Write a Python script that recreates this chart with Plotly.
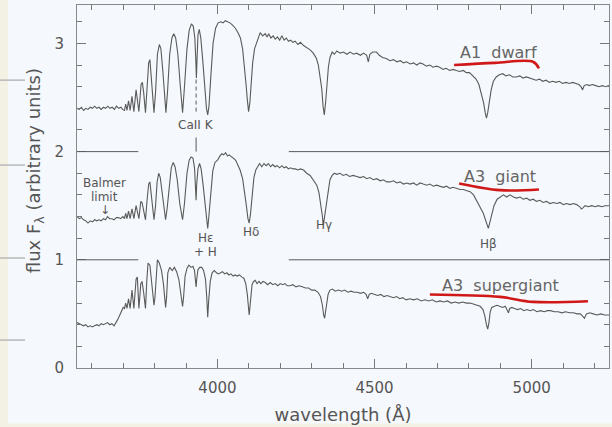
import plotly.graph_objects as go

# ---------------- data ----------------
dwarf_wl = [3553,3560,3567,3574,3581,3588,3595,3602,3609,3616,3623,3630,3637,3644,3651,3658,3665,3672,3679,3686,3693,3698,
            3704,3708,3712,3717,3722,3728,3734,3741,3750,3757,3761,3765,3771,3776,3781,3785,3789,3794,3798,3803,3809,3815,3820,
            3826,3832,3836,3841,3848,3855,3861,3867,3874,3882,3889,3895,3903,3910,3917,3923,3928,3931,3933,3935,3938,3942,3947,
            3953,3960,3965,3969,3973,3979,3986,3994,4002,4010,4018,4025,4032,4040,4048,4057,4065,4073,4080,4086,4091,4095,4099,
            4103,4107,4112,4118,4126,4136,4144,4152,4158,4163,4170,4177,4184,4191,4198,4205,4212,4219,4226,4233,4240,4247,4256,
            4264,4274,4284,4295,4305,4315,4321,4327,4332,4336,4340,4344,4348,4353,4358,4365,4372,4380,4390,4401,4412,4422,4433,
            4443,4455,4465,4475,4480,4485,4494,4506,4515,4525,4537,4549,4560,4571,4582,4592,4602,4613,4624,4634,4645,4654,4665,
            4676,4686,4697,4707,4718,4728,4739,4750,4760,4771,4782,4792,4802,4812,4823,4832,4840,4847,4852,4856,4860,4865,4871,
            4878,4887,4897,4908,4918,4929,4940,4951,4962,4972,4983,4993,5004,5014,5025,5035,5046,5056,5067,5077,5088,5098,5109,
            5120,5130,5141,5150,5157,5162,5167,5175,5183,5193,5204,5214,5225,5235,5246]
dwarf_flux = [2.40,2.39,2.41,2.38,2.40,2.39,2.41,2.40,2.42,2.40,2.41,2.39,2.41,2.40,2.42,2.40,2.41,2.39,2.42,2.40,2.41,2.39,
              2.38,2.44,2.38,2.47,2.38,2.51,2.37,2.57,2.37,2.62,2.64,2.55,2.36,2.60,2.82,2.85,2.72,2.50,2.36,2.55,2.90,2.99,2.95,
              2.75,2.48,2.36,2.55,2.90,3.05,3.09,3.05,2.90,2.60,2.36,2.60,2.95,3.12,3.18,3.16,3.05,2.85,2.68,2.85,3.08,3.13,3.05,
              2.85,2.55,2.40,2.34,2.42,2.70,3.00,3.14,3.19,3.20,3.19,3.21,3.20,3.19,3.17,3.14,3.10,3.05,2.95,2.80,2.62,2.48,2.37,
              2.45,2.63,2.82,2.95,3.02,3.10,3.07,3.09,3.06,3.09,3.05,3.07,3.04,3.06,3.03,3.07,3.03,3.05,3.02,3.03,3.01,3.02,2.99,
              3.01,2.98,2.96,2.94,2.91,2.86,2.80,2.70,2.58,2.42,2.34,2.45,2.62,2.78,2.87,2.92,2.90,2.93,2.91,2.92,2.90,2.92,2.90,
              2.91,2.89,2.91,2.89,2.83,2.90,2.92,2.92,2.89,2.87,2.86,2.84,2.85,2.83,2.84,2.82,2.83,2.81,2.82,2.80,2.82,2.81,2.79,
              2.80,2.78,2.79,2.78,2.76,2.77,2.75,2.76,2.75,2.74,2.75,2.73,2.73,2.70,2.67,2.62,2.54,2.45,2.36,2.31,2.36,2.47,2.57,
              2.65,2.69,2.71,2.72,2.70,2.71,2.69,2.69,2.70,2.68,2.69,2.68,2.67,2.66,2.67,2.65,2.66,2.64,2.65,2.64,2.65,2.63,2.64,
              2.63,2.64,2.63,2.62,2.60,2.57,2.61,2.62,2.61,2.62,2.61,2.60,2.61,2.60,2.61]

giant_wl = [3553,3560,3567,3574,3581,3588,3595,3602,3609,3616,3623,3630,3637,3644,3650,3657,3664,3671,3678,3685,3692,3699,
            3704,3708,3712,3717,3722,3728,3734,3741,3750,3756,3760,3765,3771,3776,3781,3785,3789,3794,3798,3803,3808,3813,3818,
            3824,3830,3835,3840,3847,3853,3859,3865,3872,3880,3889,3895,3903,3910,3916,3922,3927,3930,3932,3934,3938,3943,3948,
            3954,3961,3966,3969,3972,3978,3985,3992,4000,4008,4014,4020,4026,4032,4038,4045,4051,4058,4065,4072,4080,4086,4092,
            4097,4101,4105,4110,4116,4122,4128,4134,4141,4148,4155,4162,4169,4176,4183,4190,4198,4205,4212,4219,4226,4233,4240,
            4248,4256,4264,4274,4284,4295,4305,4316,4323,4329,4334,4337,4341,4345,4350,4358,4365,4372,4380,4390,4400,4410,4420,
            4432,4443,4454,4465,4475,4485,4496,4507,4518,4528,4539,4549,4560,4571,4581,4592,4602,4613,4624,4634,4645,4655,4666,
            4676,4687,4697,4708,4719,4729,4740,4750,4761,4772,4782,4793,4804,4815,4825,4835,4846,4854,4862,4868,4874,4880,4890,
            4899,4910,4920,4931,4942,4952,4963,4973,4984,4994,5005,5015,5026,5036,5047,5058,5069,5080,5090,5101,5111,5122,5133,
            5143,5153,5158,5163,5170,5180,5191,5202,5212,5223,5234,5246]
giant_flux = [1.40,1.38,1.39,1.37,1.36,1.34,1.36,1.35,1.37,1.36,1.37,1.36,1.38,1.37,1.40,1.38,1.38,1.37,1.39,1.39,1.38,1.40,
              1.38,1.43,1.38,1.45,1.38,1.47,1.38,1.50,1.38,1.54,1.53,1.45,1.37,1.55,1.70,1.72,1.62,1.46,1.37,1.50,1.72,1.80,1.76,
              1.62,1.45,1.37,1.48,1.72,1.85,1.90,1.86,1.74,1.52,1.37,1.52,1.80,1.92,1.95,1.94,1.85,1.70,1.55,1.70,1.84,1.89,1.84,
              1.70,1.48,1.35,1.29,1.38,1.62,1.82,1.90,1.92,1.96,1.98,1.97,1.99,1.96,1.97,1.95,1.94,1.92,1.88,1.83,1.75,1.64,1.50,
              1.38,1.34,1.42,1.60,1.76,1.83,1.86,1.89,1.86,1.89,1.87,1.89,1.86,1.88,1.86,1.87,1.85,1.87,1.85,1.86,1.84,1.85,1.84,
              1.84,1.83,1.84,1.83,1.80,1.78,1.74,1.69,1.62,1.52,1.40,1.32,1.40,1.52,1.60,1.74,1.78,1.80,1.79,1.80,1.78,1.79,1.77,
              1.78,1.77,1.76,1.77,1.75,1.76,1.74,1.75,1.73,1.74,1.72,1.72,1.73,1.71,1.72,1.70,1.71,1.70,1.71,1.69,1.71,1.70,1.69,
              1.70,1.68,1.69,1.68,1.67,1.68,1.66,1.67,1.66,1.65,1.65,1.64,1.63,1.60,1.55,1.49,1.43,1.35,1.29,1.36,1.44,1.50,1.56,
              1.58,1.60,1.58,1.60,1.58,1.57,1.58,1.56,1.57,1.55,1.56,1.54,1.55,1.53,1.54,1.52,1.53,1.52,1.53,1.51,1.52,1.51,1.52,
              1.51,1.49,1.47,1.48,1.50,1.49,1.50,1.49,1.50,1.49,1.50,1.50]

superg_wl = [3553,3560,3567,3574,3581,3588,3595,3602,3609,3616,3623,3630,3637,3644,3650,3657,3664,3671,3676,3681,3686,3691,
             3696,3700,3704,3708,3712,3717,3722,3728,3734,3741,3745,3750,3756,3760,3765,3771,3775,3779,3785,3790,3795,3798,3801,
             3805,3809,3815,3822,3828,3832,3835,3838,3842,3848,3856,3863,3870,3877,3883,3887,3889,3892,3897,3903,3909,3916,3922,
             3927,3930,3932,3934,3938,3944,3950,3956,3962,3966,3969,3972,3977,3983,3990,3997,4003,4010,4016,4023,4030,4036,4043,
             4050,4056,4063,4070,4078,4084,4090,4095,4099,4101,4103,4106,4110,4115,4120,4126,4132,4138,4145,4152,4160,4168,4176,
             4184,4192,4200,4208,4215,4222,4231,4240,4250,4260,4270,4280,4290,4300,4310,4320,4328,4334,4338,4341,4344,4348,4352,
             4358,4366,4375,4385,4395,4405,4415,4425,4435,4445,4455,4465,4473,4478,4483,4490,4500,4510,4520,4530,4540,4549,4560,
             4570,4580,4590,4600,4612,4624,4636,4648,4660,4672,4684,4696,4708,4720,4732,4744,4756,4768,4780,4792,4804,4815,4825,
             4836,4845,4851,4856,4860,4864,4868,4873,4880,4889,4898,4908,4916,4922,4926,4930,4937,4945,4955,4965,4975,4985,4995,
             5005,5017,5028,5040,5050,5060,5072,5084,5096,5108,5120,5132,5145,5155,5162,5168,5174,5185,5196,5208,5220,5232,5246]
superg_flux = [0.42,0.41,0.40,0.39,0.40,0.38,0.39,0.38,0.39,0.40,0.39,0.41,0.40,0.41,0.42,0.40,0.41,0.39,0.41,0.44,0.47,0.50,
               0.53,0.56,0.55,0.60,0.55,0.64,0.55,0.72,0.55,0.82,0.84,0.55,0.78,0.80,0.70,0.55,0.80,0.97,0.95,0.80,0.62,0.58,0.65,
               0.90,1.00,0.97,0.90,0.78,0.62,0.56,0.65,0.88,0.93,0.90,0.93,0.89,0.82,0.70,0.60,0.57,0.65,0.85,0.92,0.95,0.93,0.94,
               0.90,0.82,0.75,0.82,0.91,0.93,0.93,0.90,0.82,0.65,0.47,0.62,0.80,0.88,0.90,0.88,0.87,0.88,0.89,0.87,0.88,0.86,0.87,
               0.85,0.86,0.85,0.86,0.84,0.83,0.78,0.68,0.55,0.49,0.55,0.68,0.77,0.80,0.81,0.78,0.80,0.78,0.80,0.79,0.77,0.79,0.77,
               0.78,0.76,0.78,0.77,0.78,0.76,0.76,0.77,0.75,0.76,0.75,0.74,0.74,0.72,0.72,0.70,0.66,0.58,0.49,0.46,0.52,0.62,0.68,
               0.72,0.73,0.71,0.72,0.71,0.72,0.70,0.71,0.70,0.70,0.69,0.70,0.68,0.64,0.68,0.69,0.68,0.67,0.68,0.66,0.67,0.66,0.65,
               0.66,0.64,0.65,0.63,0.64,0.63,0.64,0.62,0.63,0.62,0.63,0.61,0.62,0.61,0.62,0.60,0.61,0.60,0.61,0.60,0.60,0.59,0.58,
               0.57,0.54,0.48,0.40,0.36,0.42,0.52,0.56,0.57,0.58,0.57,0.56,0.57,0.54,0.51,0.55,0.56,0.55,0.54,0.55,0.53,0.54,0.53,
               0.54,0.52,0.53,0.52,0.53,0.53,0.52,0.52,0.51,0.52,0.51,0.51,0.50,0.50,0.48,0.46,0.50,0.51,0.50,0.49,0.50,0.49,0.49]

# reference levels drawn as horizontal segments
ref_levels = [2, 1]
ref_left = [3553, 3748]
ref_right = [4227, 5246]

# labels: (text, wavelength, flux)
line_labels = ["CaII K", "Balmer", "limit", "↓", "Hε", "+ H", "Hδ", "Hγ", "Hβ"]
line_label_wl = [3931, 3641, 3641, 3641, 3963, 3963, 4107, 4339, 4861]
line_label_y = [2.245, 1.71, 1.585, 1.46, 1.20, 1.075, 1.255, 1.32, 1.15]

star_labels = ["A1  dwarf", "A3  giant", "A3  supergiant"]
star_label_wl = [4893, 4900, 4900]
star_label_y = [2.92, 1.77, 0.76]

# hand-drawn red underlines
ul1_x = [4753, 4883, 5004, 5023]; ul1_y = [2.80, 2.82, 2.83, 2.77]
ul2_x = [4769, 4899, 5023];       ul2_y = [1.706, 1.644, 1.650]
ul3_x = [4676, 4899, 5004, 5179]; ul3_y = [0.679, 0.657, 0.611, 0.617]

XR = [3553, 5246]
YR = [0, 3.355]

INK = "#5a5a5a"
TXT = "#555555"
BG = "#f5f8fc"
FONT = "DejaVu Sans"

fig = go.Figure()
for wl, fl in [(dwarf_wl, dwarf_flux), (giant_wl, giant_flux), (superg_wl, superg_flux)]:
    fig.add_trace(go.Scatter(x=wl, y=fl, mode="lines", line=dict(color=INK, width=1.1),
                             hoverinfo="skip", showlegend=False))

for ux, uy in [(ul1_x, ul1_y), (ul2_x, ul2_y), (ul3_x, ul3_y)]:
    fig.add_trace(go.Scatter(x=ux, y=uy, mode="lines", line=dict(color="#d01818", width=2.6, shape="spline"),
                             hoverinfo="skip", showlegend=False))

shapes = []
for lv in ref_levels:
    shapes.append(dict(type="line", xref="x", yref="y", x0=ref_left[0], x1=ref_left[1], y0=lv, y1=lv,
                       line=dict(color=INK, width=1)))
    shapes.append(dict(type="line", xref="x", yref="y", x0=ref_right[0], x1=ref_right[1], y0=lv, y1=lv,
                       line=dict(color=INK, width=1)))
# CaII K marker and faint dashed line in top spectrum
shapes.append(dict(type="line", xref="x", yref="y", x0=3932, x1=3932, y0=2.0, y1=2.13,
                   line=dict(color=INK, width=1)))
shapes.append(dict(type="line", xref="x", yref="y", x0=3932, x1=3932, y0=2.37, y1=2.68,
                   line=dict(color=INK, width=1, dash="4px,3px")))
# page artifacts of the scan
shapes.append(dict(type="rect", xref="paper", yref="paper", x0=-0.1447, x1=-0.1297, y0=-0.17, y1=1.02,
                   fillcolor="#f3f1e3", line=dict(width=0), layer="below"))
shapes.append(dict(type="rect", xref="paper", yref="paper", x0=-0.15, x1=1.01, y0=-0.1625, y1=-0.153,
                   fillcolor="#f3f1e3", line=dict(width=0), layer="below"))
for yp in [0.793, 0.559, 0.303, 0.077]:
    shapes.append(dict(type="line", xref="paper", yref="paper", x0=-0.1447, x1=-0.0977, y0=yp, y1=yp,
                       line=dict(color="#b8b8b8", width=1.5)))

annotations = []
for t, xw, yv in zip(line_labels, line_label_wl, line_label_y):
    annotations.append(dict(text=t, x=xw, y=yv, xref="x", yref="y", showarrow=False,
                            font=dict(family=FONT, size=12, color=TXT)))
for t, xw, yv in zip(star_labels, star_label_wl, star_label_y):
    annotations.append(dict(text=t, x=xw, y=yv, xref="x", yref="y", showarrow=False,
                            font=dict(family=FONT, size=16, color="#666666")))
# y-axis title (placed slightly above centre as in the reference)
annotations.append(dict(text="flux F<sub>λ</sub> (arbitrary units)", x=-0.079, y=0.545, xref="paper", yref="paper",
                        showarrow=False, textangle=-90, xanchor="center", yanchor="middle",
                        font=dict(family=FONT, size=18, color=TXT)))

fig.update_layout(
    width=612, height=427,
    margin=dict(l=77, r=3, t=5, b=59),
    paper_bgcolor=BG, plot_bgcolor=BG,
    shapes=shapes, annotations=annotations,
    font=dict(family=FONT, color=TXT),
    xaxis=dict(range=XR, tickvals=[4000, 4500, 5000], ticks="inside", ticklen=9, tickcolor="#777",
               showline=True, linecolor="#888", linewidth=1, mirror="ticks", showgrid=False, zeroline=False,
               minor=dict(dtick=100, tick0=3600, ticks="inside", ticklen=5, tickcolor="#777"),
               tickfont=dict(size=15, color=TXT), ticklabelstandoff=6,
               title=dict(text="wavelength (Å)", font=dict(size=18, color=TXT), standoff=12)),
    yaxis=dict(range=YR, tickvals=[0, 1, 2, 3], ticks="inside", ticklen=9, tickcolor="#777",
               showline=True, linecolor="#888", linewidth=1, mirror="ticks", showgrid=False, zeroline=False,
               minor=dict(dtick=0.2, tick0=0, ticks="inside", ticklen=5, tickcolor="#777"),
               tickfont=dict(size=15, color=TXT), ticklabelstandoff=9),
)

fig.write_html("out.html")
